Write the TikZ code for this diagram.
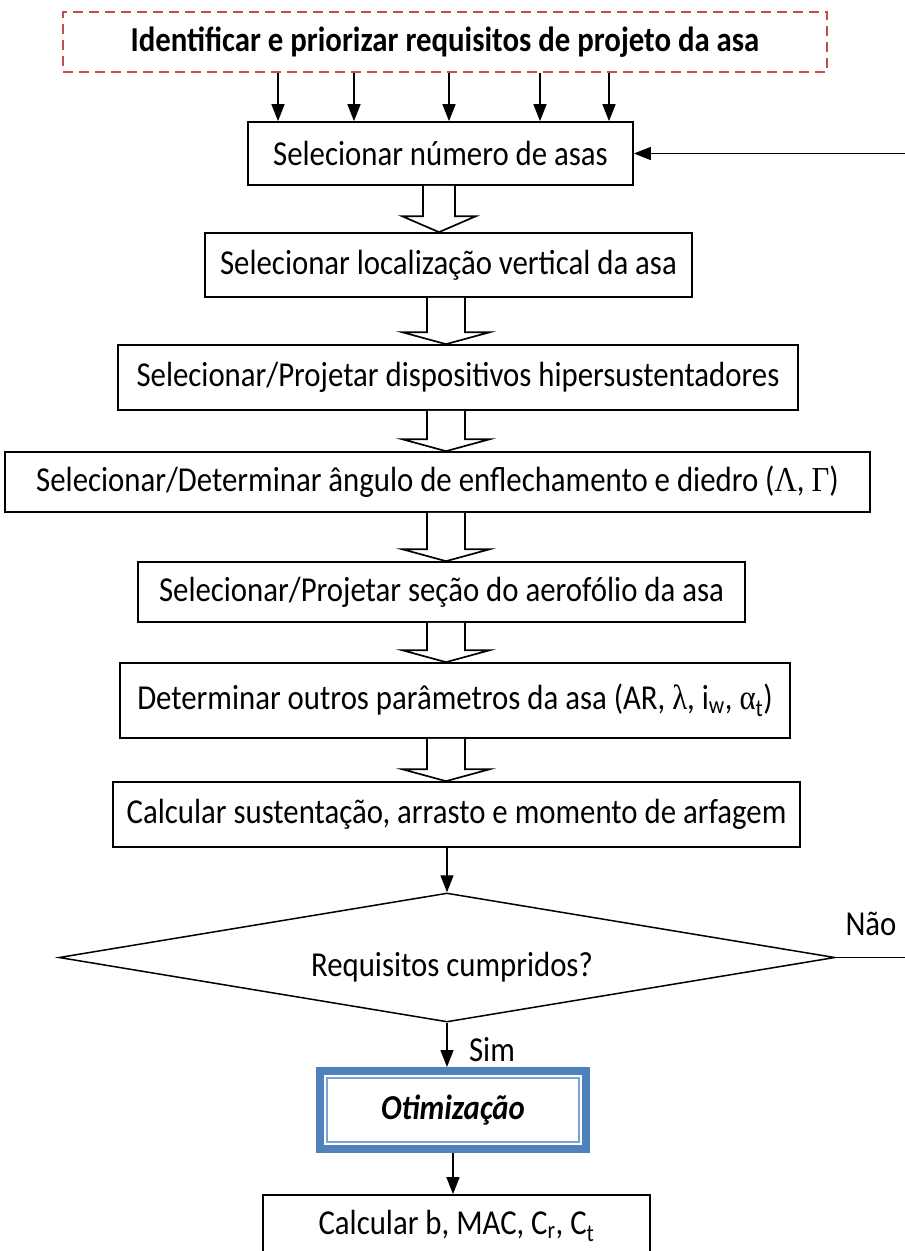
\documentclass[tikz,border=0pt]{standalone}
\usepackage{fontspec}
\setmainfont{Carlito}[FakeStretch=0.88]
\newfontfamily\grk{Liberation Serif}[FakeStretch=0.88]
\usetikzlibrary{arrows.meta,shapes.geometric,calc}
\definecolor{dashred}{HTML}{C0504D}
\definecolor{optblue}{HTML}{4F81BD}
\definecolor{optlight}{HTML}{7FA3D1}

% hollow block arrow from box #1 to box #2, centred on x = #3,
% shaft half width #4, head half width #5, head height #6
\newcommand\blockarrow[6]{%
  \draw[hollow] let \p1=(#1.south), \p2=(#2.north) in
    (#3pt-#4pt,\y1) -- (#3pt-#4pt,\y2+#6pt) -- (#3pt-#5pt,\y2+#6pt) --
    (#3pt,\y2) -- (#3pt+#5pt,\y2+#6pt) -- (#3pt+#4pt,\y2+#6pt) -- (#3pt+#4pt,\y1);
}

\begin{document}
\begin{tikzpicture}[x=1pt,y=-1pt,
  font=\fontsize{35}{40}\selectfont,
  stepbox/.style={draw=black, line width=1.7pt, fill=white, inner sep=0pt},
  reqbox/.style={draw=dashred, line width=2.2pt, dash pattern=on 10pt off 6pt, inner sep=0pt},
  arr/.style={draw=black, line width=1.4pt, -{Triangle[width=13pt,length=17pt]}},
  hollow/.style={draw=black, line width=1.7pt, fill=white, line join=miter},
  decision/.style={draw=black, line width=1.5pt, diamond, aspect=6, inner sep=0pt},
  optbox/.style={draw=optblue, line width=8pt, fill=white, inner sep=0pt}]
\useasboundingbox (0,0) rectangle (905,1251);

% requirement box and process steps
\node[reqbox, minimum width=764pt, minimum height=60pt] (req) at (445,42)
  {\bfseries Identificar e priorizar requisitos de projeto da asa};
\node[stepbox, minimum width=385pt, minimum height=63pt] (b1) at (440.5,153.5)
  {Selecionar número de asas};
\node[stepbox, minimum width=487pt, minimum height=64pt] (b2) at (448.5,265)
  {Selecionar localização vertical da asa};
\node[stepbox, minimum width=680pt, minimum height=65pt] (b3) at (458,377.5)
  {Selecionar/Projetar dispositivos hipersustentadores};
\node[stepbox, minimum width=865pt, minimum height=60pt] (b4) at (437.5,482)
  {Selecionar/Determinar ângulo de enflechamento e diedro ({\grk Λ}, {\grk Γ})};
\node[stepbox, minimum width=607pt, minimum height=60pt] (b5) at (441.5,592)
  {Selecionar/Projetar seção do aerofólio da asa};
\node[stepbox, minimum width=670pt, minimum height=75pt] (b6) at (455,700.5)
  {Determinar outros parâmetros da asa (AR, {\grk λ}, i\textsubscript{w}, {\grk α}\textsubscript{t})};
\node[stepbox, minimum width=687pt, minimum height=65pt] (b7) at (456.5,814.5)
  {Calcular sustentação, arrasto e momento de arfagem};
\node[decision, minimum width=776pt, minimum height=129pt] (dia) at (447,957.5) {};
\node (diatext) at (452,967) {Requisitos cumpridos?};
\node[optbox, minimum width=266pt, minimum height=78pt] (opt) at (453,1110)
  {\bfseries\itshape Otimização};
\draw[optlight, line width=2pt]
  ([shift={(11pt,-11pt)}]opt.north west) rectangle ([shift={(-11pt,11pt)}]opt.south east);
\node[stepbox, minimum width=387pt, minimum height=62pt] (b8) at (456.5,1226)
  {Calcular b, MAC, C\textsubscript{r}, C\textsubscript{t}};

% branch labels
\node (nao) at (871,924) {Não};
\node (sim) at (492,1050) {Sim};

% requirement arrows
\foreach \xx [count=\i] in {278,354,449,540,609} {
  \coordinate (r\i) at (\xx,0);
  \draw[arr] (req.south -| r\i) -- (b1.north -| r\i);
}

% block arrows between steps
\blockarrow{b1}{b2}{439}{16}{37}{16}
\blockarrow{b2}{b3}{446}{19}{44}{12}
\blockarrow{b3}{b4}{446}{19}{44}{12}
\blockarrow{b4}{b5}{446}{19}{44}{12}
\blockarrow{b5}{b6}{446}{19}{44}{12}
\blockarrow{b6}{b7}{446}{19}{44}{12}

% decision flow
\draw[arr] (b7.south -| dia.north) -- (dia.north);
\draw[arr] (dia.south) -- (dia.south |- opt.north);
\draw[arr] (opt.south) -- (opt.south |- b8.north);

% loop back when requirements are not met
\coordinate (fbr) at (907,957.5);
\coordinate (fbt) at (907,153.5);
\draw[arr] (dia.east) -- (fbr) -- (fbt) -- (b1.east);
\end{tikzpicture}
\end{document}
